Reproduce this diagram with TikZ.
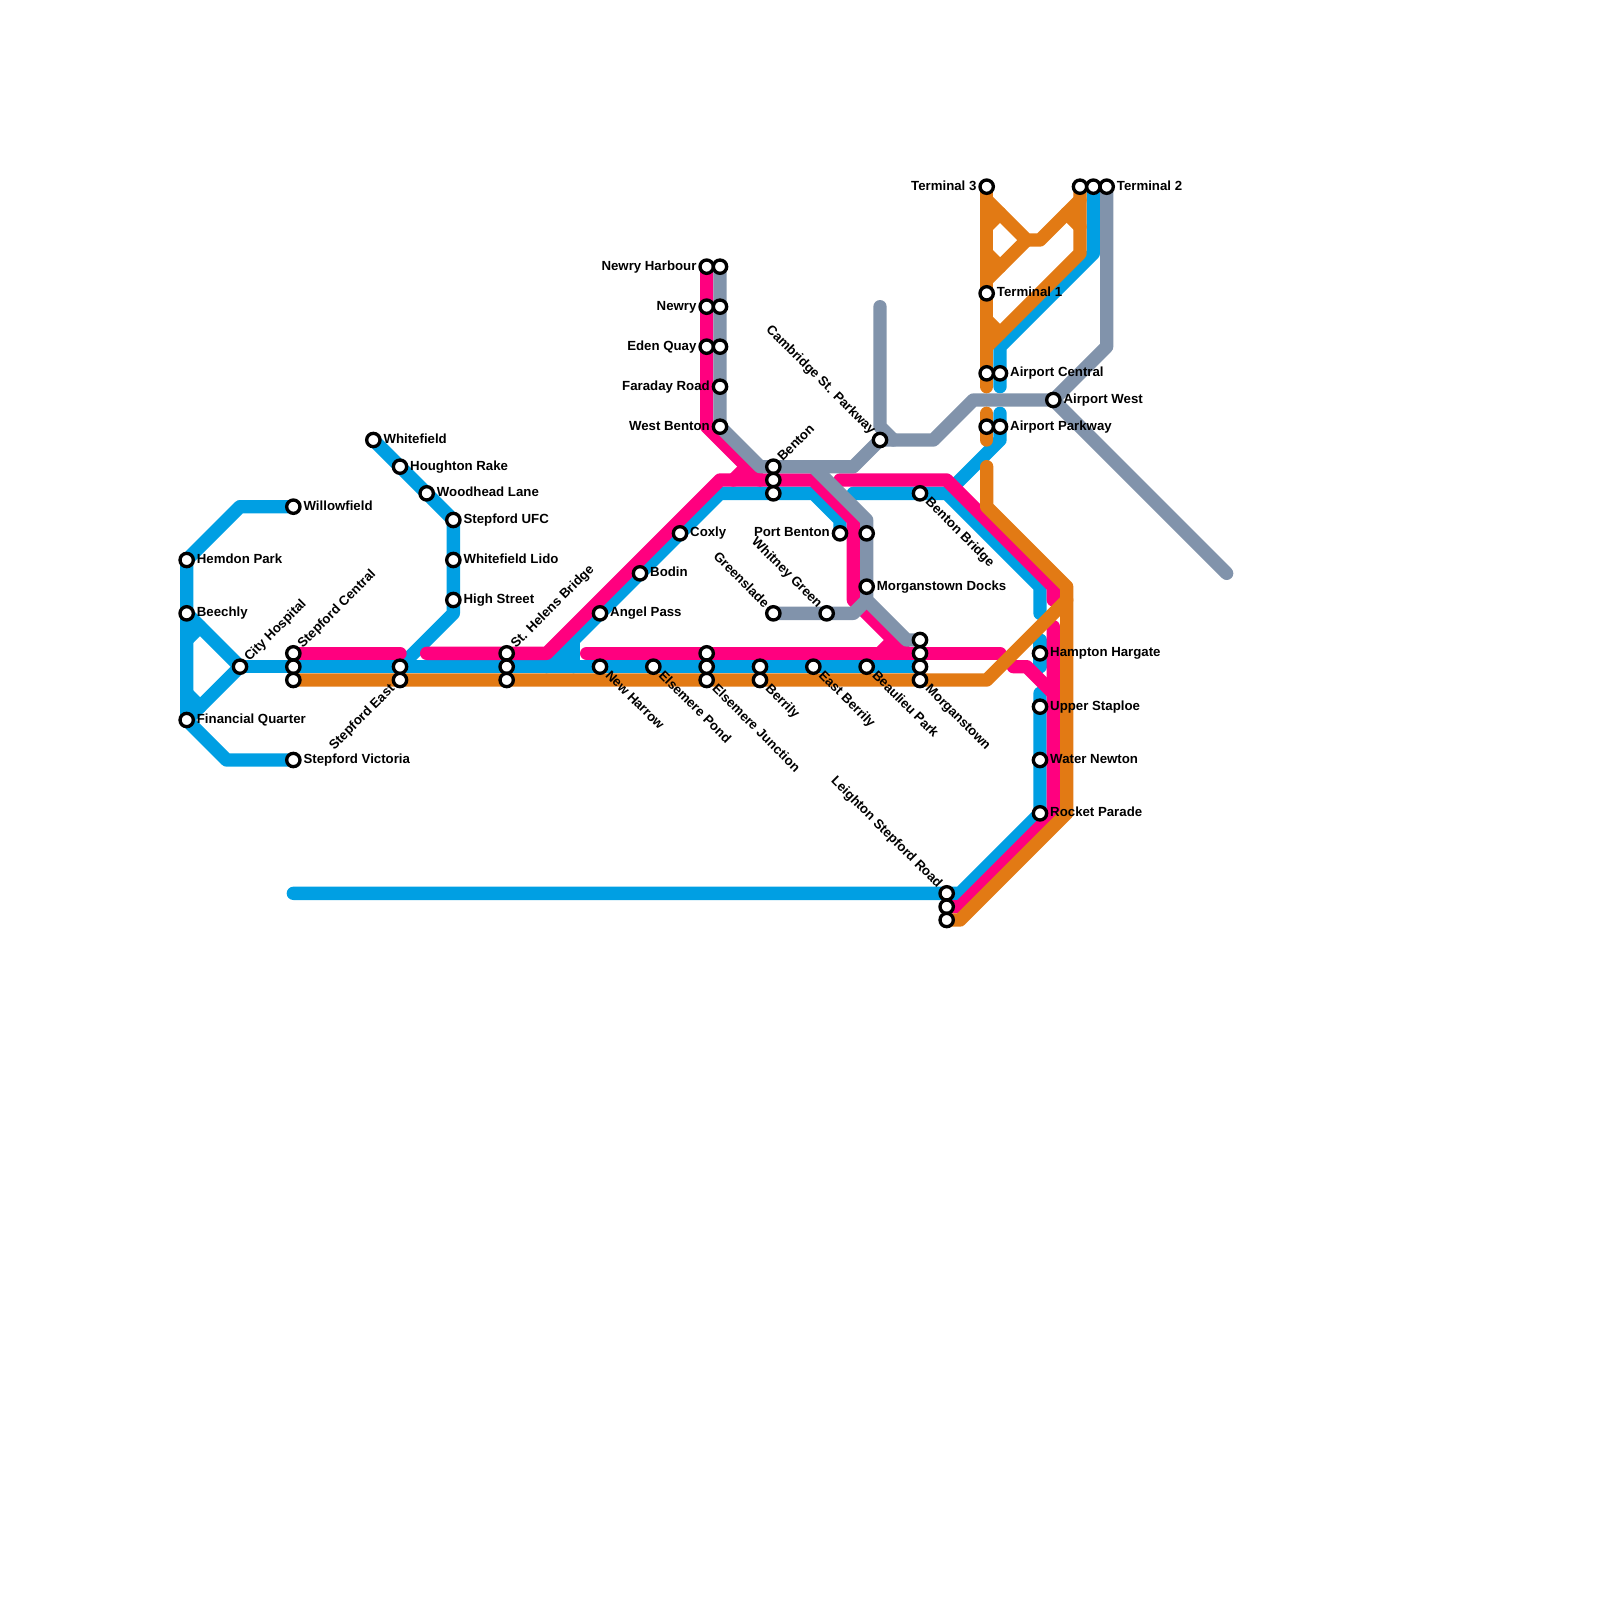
\documentclass[tikz,border=0pt]{standalone}
\usepackage{fontspec}
\setmainfont{Liberation Sans}
\usepackage{xcolor}
\definecolor{cBlue}{HTML}{009FE3}
\definecolor{cPink}{HTML}{FF007F}
\definecolor{cGray}{HTML}{8193AB}
\definecolor{cOrange}{HTML}{E27A14}
\usetikzlibrary{backgrounds}
\tikzset{
  node-stn/.style={draw=black,fill=white,circle,line width=1mm,minimum size=4mm,inner sep=0pt},
  node-lbl/.style={inner sep=0pt,font=\fontsize{11.3}{13}\selectfont\bfseries},
  lbl-r/.style={node-lbl,anchor=base west,xshift=3mm,yshift=-1mm},
  lbl-l/.style={node-lbl,anchor=base east,xshift=-3mm,yshift=-1mm},
  lbl-ne/.style={node-lbl,anchor=base west,xshift=2.8mm,yshift=1.4mm,rotate=45},
  lbl-se/.style={node-lbl,anchor=base west,xshift=1.4mm,yshift=-2.8mm,rotate=-45},
  lbl-nw/.style={node-lbl,anchor=base east,xshift=-2.8mm,yshift=1.4mm,rotate=-45},
  lbl-sw/.style={node-lbl,anchor=base east,xshift=-1.4mm,yshift=-2.8mm,rotate=45},
  line-base/.style={line width=4mm,line cap=round,line join=round},
  line-blue/.style={line-base,draw=cBlue},
  line-pink/.style={line-base,draw=cPink},
  line-gray/.style={line-base,draw=cGray},
  line-orange/.style={line-base,draw=cOrange},
}
\begin{document}
\begin{tikzpicture}[x=4mm,y=-4mm]
  \useasboundingbox (0,0) rectangle (120,120);
  % stations with a label
  \foreach \name/\x/\y/\pos/\txt in {
    hemdon/14/42/lbl-r/Hemdon Park, beechly/14/46/lbl-r/Beechly, finQuarter/14/54/lbl-r/Financial Quarter,
    cityHosp/18/50/lbl-ne/City Hospital, stepCentA/22/49/lbl-ne/Stepford Central,
    willowfield/22/38/lbl-r/Willowfield, stepVictoria/22/57/lbl-r/Stepford Victoria,
    stepEastB/30/51/lbl-sw/Stepford East, whitefield/28/33/lbl-r/Whitefield,
    houghton/30/35/lbl-r/Houghton Rake, woodhead/32/37/lbl-r/Woodhead Lane,
    stepUfc/34/39/lbl-r/Stepford UFC, whiteLido/34/42/lbl-r/Whitefield Lido, highStreet/34/45/lbl-r/High Street,
    helensA/38/49/lbl-ne/St. Helens Bridge, angelPass/45/46/lbl-r/Angel Pass, bodin/48/43/lbl-r/Bodin, coxly/51/40/lbl-r/Coxly,
    newHarrow/45/50/lbl-se/New Harrow, elsPond/49/50/lbl-se/Elsemere Pond, elsJuncC/53/51/lbl-se/Elsemere Junction,
    berrilyB/57/51/lbl-se/Berrily, eastBerrily/61/50/lbl-se/East Berrily, beaulieu/65/50/lbl-se/Beaulieu Park,
    morganD/69/51/lbl-se/Morganstown, bentonBridge/69/37/lbl-se/Benton Bridge,
    morganDocks/65/44/lbl-r/Morganstown Docks, portBenton/63/40/lbl-l/Port Benton,
    whitney/62/46/lbl-nw/Whitney Green, greenslade/58/46/lbl-nw/Greenslade, bentonA/58/35/lbl-ne/Benton,
    harbourA/53/20/lbl-l/Newry Harbour, newryA/53/23/lbl-l/Newry, edenA/53/26/lbl-l/Eden Quay,
    faraday/54/29/lbl-l/Faraday Road, westBenton/54/32/lbl-l/West Benton,
    cambridge/66/33/lbl-nw/Cambridge St. Parkway, terminalThree/74/14/lbl-l/Terminal 3, terminalOne/74/22/lbl-r/Terminal 1,
    airCentB/75/28/lbl-r/Airport Central, airParkB/75/32/lbl-r/Airport Parkway, airWest/79/30/lbl-r/Airport West,
    terminalTwoC/83/14/lbl-r/Terminal 2, hampton/78/49/lbl-r/Hampton Hargate, upperStaploe/78/53/lbl-r/Upper Staploe,
    waterNewton/78/57/lbl-r/Water Newton, rocket/78/61/lbl-r/Rocket Parade, leightonA/71/67/lbl-nw/Leighton Stepford Road} {
    \node[node-stn] (\name) at (\x,\y) {};
    \node[\pos] (\name-lbl) at (\x,\y) {\txt};
  }
  % the other platforms
  \foreach \name/\x/\y in {
    stepCentB/22/50, stepCentC/22/51, stepEastA/30/50, helensB/38/50, helensC/38/51,
    elsJuncA/53/49, elsJuncB/53/50, berrilyA/57/50, morganA/69/48, morganB/69/49, morganC/69/50,
    docksTop/65/40, bentonB/58/36, bentonC/58/37, harbourB/54/20, newryB/54/23, edenB/54/26,
    airCentA/74/28, airParkA/74/32, terminalTwoA/81/14, terminalTwoB/82/14,
    leightonB/71/68, leightonC/71/69} {
    \node[node-stn] (\name) at (\x,\y) {};
  }
  \begin{scope}[on background layer]
    % blue
    \draw[line-blue] (willowfield.center) -- (18,38) -- (hemdon.center) -- (beechly.center) -- (finQuarter.center) -- (17,57) -- (stepVictoria.center);
    \draw[line-blue] (beechly.center) -- (cityHosp.center) -- (finQuarter.center);
    \draw[line-blue] (14,48) -- (15,47);
    \draw[line-blue] (14,52) -- (15,53);
    \draw[line-blue] (cityHosp.center) -- (stepCentB.center) -- (stepEastA.center) -- (helensB.center) -- (morganC.center);
    \draw[line-blue] (whitefield.center) -- (stepUfc.center) -- (highStreet.center) -- (34,46) -- (stepEastA.center);
    \draw[line-blue] (41,50) -- (angelPass.center) -- (coxly.center) -- (54,37) -- (bentonC.center) -- (61,37) -- (63,39) -- (portBenton.center);
    \draw[line-blue] (43,48) -- (43,50);
    \draw[line-blue] (42,49) -- (43,49);
    \draw[line-blue] (64,37) -- (bentonBridge.center) -- (71,37) -- (78,44) -- (78,46);
    \draw[line-blue] (terminalTwoB.center) -- (82,19) -- (75,26) -- (airCentB.center) -- (75,29);
    \draw[line-blue] (75,31) -- (airParkB.center) -- (75,33) -- (71,37);
    \draw[line-blue] (78,48) -- (hampton.center) -- (78,50);
    \draw[line-blue] (78,52) -- (rocket.center) -- (72,67) -- (leightonA.center) -- (22,67);
    % pink
    \draw[line-pink] (stepCentA.center) -- (30,49);
    \draw[line-pink] (32,49) -- (helensA.center) -- (41,49) -- (54,36) -- (bentonB.center) -- (61,36) -- (64,39) -- (64,45) -- (68,49);
    \draw[line-pink] (harbourA.center) -- (53,32) -- (57,36);
    \draw[line-pink] (55,36) -- (56,35);
    \draw[line-pink] (44,49) -- (elsJuncA.center) -- (morganB.center) -- (75,49);
    \draw[line-pink] (66,49) -- (67,48);
    \draw[line-pink] (63,36) -- (71,36) -- (79,44) -- (79,45);
    \draw[line-pink] (79,47) -- (79,61) -- (72,68) -- (leightonB.center);
    \draw[line-pink] (76,50) -- (77,50) -- (79,52);
    % gray
    \draw[line-gray] (harbourB.center) -- (westBenton.center) -- (57,35) -- (bentonA.center) -- (64,35) -- (cambridge.center) -- (70,33) -- (73,30) -- (airWest.center) -- (83,26) -- (terminalTwoC.center);
    \draw[line-gray] (66,23) -- (66,32) -- (67,33);
    \draw[line-gray] (airWest.center) -- (92,43);
    \draw[line-gray] (61,35) -- (65,39) -- (morganDocks.center) -- (65,45) -- (68,48) -- (morganA.center);
    \draw[line-gray] (greenslade.center) -- (64,46) -- (65,45);
    % orange
    \draw[line-orange] (stepCentC.center) -- (74,51) -- (80,45);
    \draw[line-orange] (terminalThree.center) -- (airCentA.center) -- (74,29);
    \draw[line-orange] (74,15) -- (77,18) -- (78,18) -- (81,15);
    \draw[line-orange] (77,18) -- (74,21);
    \draw[line-orange] (74,17) -- (75,16);
    \draw[line-orange] (74,19) -- (75,20);
    \draw[line-orange] (80,16) -- (81,17);
    \draw[line-orange] (terminalTwoA.center) -- (81,19) -- (74,26);
    \draw[line-orange] (74,24) -- (75,25);
    \draw[line-orange] (74,31) -- (airParkA.center) -- (74,33);
    \draw[line-orange] (74,35) -- (74,38) -- (80,44) -- (80,61) -- (72,69) -- (leightonC.center);
  \end{scope}
\end{tikzpicture}
\end{document}
